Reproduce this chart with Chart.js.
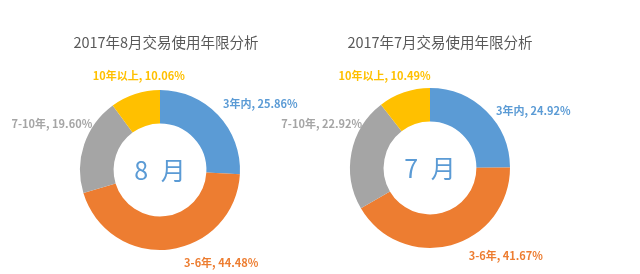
<!DOCTYPE html>
<html>
<head>
<meta charset="utf-8">
<script src="https://cdn.jsdelivr.net/npm/chart.js@4/dist/chart.umd.min.js"></script>
<style>
  html, body { margin: 0; padding: 0; background: #fff; }
  #wrap { position: relative; width: 640px; height: 274px; overflow: hidden; }
  canvas { position: absolute; top: 0; }
</style>
</head>
<body>
<div id="wrap">
  <canvas id="aug" width="320" height="274" style="left:0"></canvas>
  <canvas id="jul" width="320" height="274" style="left:270px"></canvas>
</div>
<script>
const categories = ['3年内', '3-6年', '7-10年', '10年以上'];
const augValues = [25.86, 44.48, 19.60, 10.06];
const julValues = [24.92, 41.67, 22.92, 10.49];
const colors = ['#5B9BD5', '#ED7D31', '#A5A5A5', '#FFC000'];
const font = '"Noto Sans CJK SC", "Noto Sans", sans-serif';

// draws title, centre text and outside labels
const donutText = {
  id: 'donutText',
  afterDraw(chart, args, opts) {
    const ctx = chart.ctx;
    const meta = chart.getDatasetMeta(0);
    const arc0 = meta.data[0];
    ctx.save();
    ctx.textBaseline = 'middle';
    ctx.textAlign = 'center';

    ctx.fillStyle = '#595959';
    ctx.font = '14.5px ' + font;
    ctx.fillText(opts.title, arc0.x + opts.titleDx, 42);

    ctx.fillStyle = '#5B9BD5';
    ctx.font = '25px ' + font;
    ctx.fillText(opts.center, arc0.x, arc0.y);

    ctx.font = 'bold 11px ' + font;
    meta.data.forEach((arc, i) => {
      const mid = (arc.startAngle + arc.endAngle) / 2;
      const r = arc.outerRadius + 14;
      const nudge = opts.nudges[i];
      const x = arc.x + Math.cos(mid) * r + nudge[0];
      const y = arc.y + Math.sin(mid) * r + nudge[1];
      const v = chart.data.datasets[0].data[i];
      ctx.fillStyle = colors[i];
      ctx.fillText(chart.data.labels[i] + ', ' + v.toFixed(2) + '%', x, y);
    });
    ctx.restore();
  }
};

function donut(id, values, title, center, pad, titleDx, nudges) {
  new Chart(document.getElementById(id), {
    type: 'doughnut',
    data: {
      labels: categories,
      datasets: [{
        data: values,
        backgroundColor: colors,
        borderWidth: 0
      }]
    },
    options: {
      responsive: false,
      animation: false,
      cutout: '58%',
      layout: { padding: pad },
      plugins: {
        legend: { display: false },
        tooltip: { enabled: false },
        donutText: { title: title, center: center, titleDx: titleDx, nudges: nudges }
      }
    },
    plugins: [donutText]
  });
}

donut('aug', augValues, '2017年8月交易使用年限分析', '8\u2002月',
  { top: 90, bottom: 24, left: 80, right: 80 }, 6,
  [[32, -2], [50, -1], [-19, -16], [8, -5]]);
donut('jul', julValues, '2017年7月交易使用年限分析', '7\u2002月',
  { top: 88, bottom: 26, left: 80, right: 80 }, 10,
  [[37, 9], [51, -3], [-16, -26], [-15, -3]]);
</script>
</body>
</html>
